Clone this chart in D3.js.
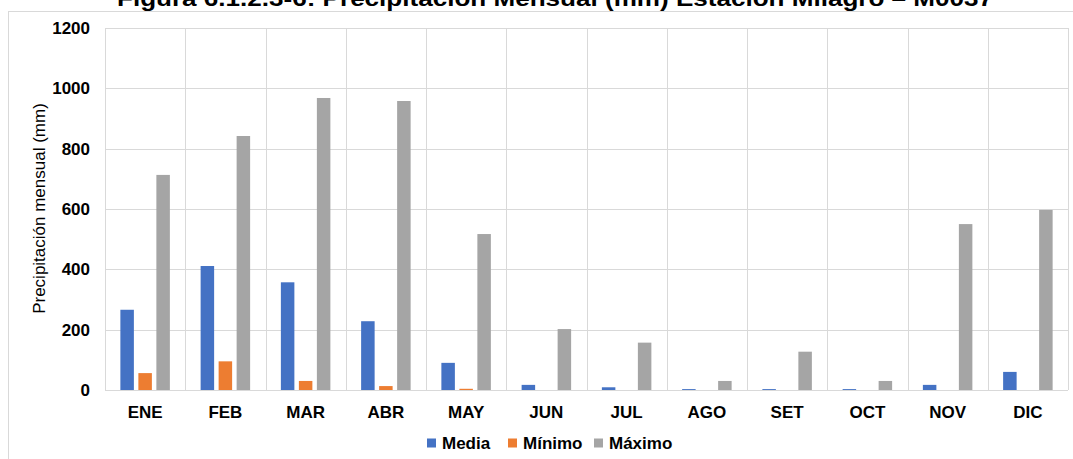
<!DOCTYPE html>
<html>
<head>
<meta charset="utf-8">
<script src="https://cdn.jsdelivr.net/npm/d3@7"></script>
<style>
  body { margin: 0; background: #fff; }
  svg { display: block; font-family: "Liberation Sans", Arial, sans-serif; }
</style>
</head>
<body>
<div id="chart"></div>
<script>
// datos: precipitacion mensual (mm)
const meses = ["ENE", "FEB", "MAR", "ABR", "MAY", "JUN", "JUL", "AGO", "SET", "OCT", "NOV", "DIC"]
const series = ["Media", "Mínimo", "Máximo"]
const colores = ["#4472c4", "#ed7d31", "#a5a5a5"]
const media = [266, 411, 357, 228, 90, 17, 9, 3, 3, 3, 17, 60]
const minimo = [56, 95, 30, 13, 4, 0, 0, 0, 0, 0, 0, 0]
const maximo = [713, 842, 968, 958, 517, 202, 157, 30, 127, 30, 550, 597]
const ticksY = [0, 200, 400, 600, 800, 1000, 1200]

const ancho = 1073, alto = 459
const m = { left: 105, right: 1068, top: 28, bottom: 390 }

const svg = d3.select("#chart").append("svg")
  .attr("width", ancho)
  .attr("height", alto)

// marco exterior
svg.append("rect")
  .attr("x", 8.5).attr("y", 11.5)
  .attr("width", 1080).attr("height", 470)
  .attr("fill", "none").attr("stroke", "#d9d9d9")

// titulo (cortado arriba, como en la figura original)
svg.append("text")
  .attr("x", 555).attr("y", 6)
  .attr("text-anchor", "middle")
  .attr("font-size", 22).attr("font-weight", "bold")
  .attr("textLength", 876).attr("lengthAdjust", "spacingAndGlyphs")
  .text("Figura 6.1.2.3-6: Precipitación Mensual (mm) Estación Milagro – M0037")

const x0 = d3.scaleBand().domain(meses).range([m.left, m.right])
const x1 = d3.scaleBand().domain(series)
  .range([x0.bandwidth() / 2 - 24.75, x0.bandwidth() / 2 + 24.75])
  .paddingInner(0.25)
const y = d3.scaleLinear().domain([0, 1200]).range([m.bottom, m.top])

// rejilla horizontal
svg.append("g").selectAll("line").data(ticksY).join("line")
  .attr("x1", m.left).attr("x2", m.right)
  .attr("y1", d => Math.round(y(d)) + 0.5).attr("y2", d => Math.round(y(d)) + 0.5)
  .attr("stroke", "#d9d9d9")

// rejilla vertical
svg.append("g").selectAll("line").data(meses.concat(["fin"])).join("line")
  .attr("x1", (d, i) => Math.round(m.left + i * x0.step()) + 0.5)
  .attr("x2", (d, i) => Math.round(m.left + i * x0.step()) + 0.5)
  .attr("y1", m.top).attr("y2", m.bottom)
  .attr("stroke", "#d9d9d9")

// barras
const datos = meses.map((mes, i) => ({ mes, vals: [media[i], minimo[i], maximo[i]] }))
const grupos = svg.append("g").selectAll("g").data(datos).join("g")
  .attr("transform", d => `translate(${x0(d.mes)},0)`)
grupos.selectAll("rect")
  .data(d => d.vals.map((v, k) => ({ serie: series[k], v, k })))
  .join("rect")
  .attr("x", d => x1(d.serie))
  .attr("width", x1.bandwidth())
  .attr("y", d => y(d.v))
  .attr("height", d => y(0) - y(d.v))
  .attr("fill", d => colores[d.k])

// eje x
svg.append("g").selectAll("text").data(meses).join("text")
  .attr("x", d => x0(d) + x0.bandwidth() / 2)
  .attr("y", 417.5)
  .attr("text-anchor", "middle")
  .attr("font-size", 17).attr("font-weight", "bold")
  .text(d => d)

// eje y
svg.append("g").selectAll("text").data(ticksY).join("text")
  .attr("x", 90)
  .attr("y", d => y(d))
  .attr("dy", "0.35em")
  .attr("text-anchor", "end")
  .attr("font-size", 17).attr("font-weight", "bold")
  .text(d => d)

svg.append("text")
  .attr("transform", "translate(45,208.5) rotate(-90)")
  .attr("text-anchor", "middle")
  .attr("font-size", 17)
  .text("Precipitación mensual  (mm)")

// leyenda
const leyX = [427, 508, 594]
const ley = svg.append("g").selectAll("g").data(series).join("g")
  .attr("transform", (d, i) => `translate(${leyX[i]},443)`)
ley.append("rect")
  .attr("x", 0).attr("y", -4.5)
  .attr("width", 9).attr("height", 9)
  .attr("fill", (d, i) => colores[i])
ley.append("text")
  .attr("x", 15).attr("dy", "0.36em")
  .attr("font-size", 17).attr("font-weight", "bold")
  .text(d => d)
</script>
</body>
</html>
